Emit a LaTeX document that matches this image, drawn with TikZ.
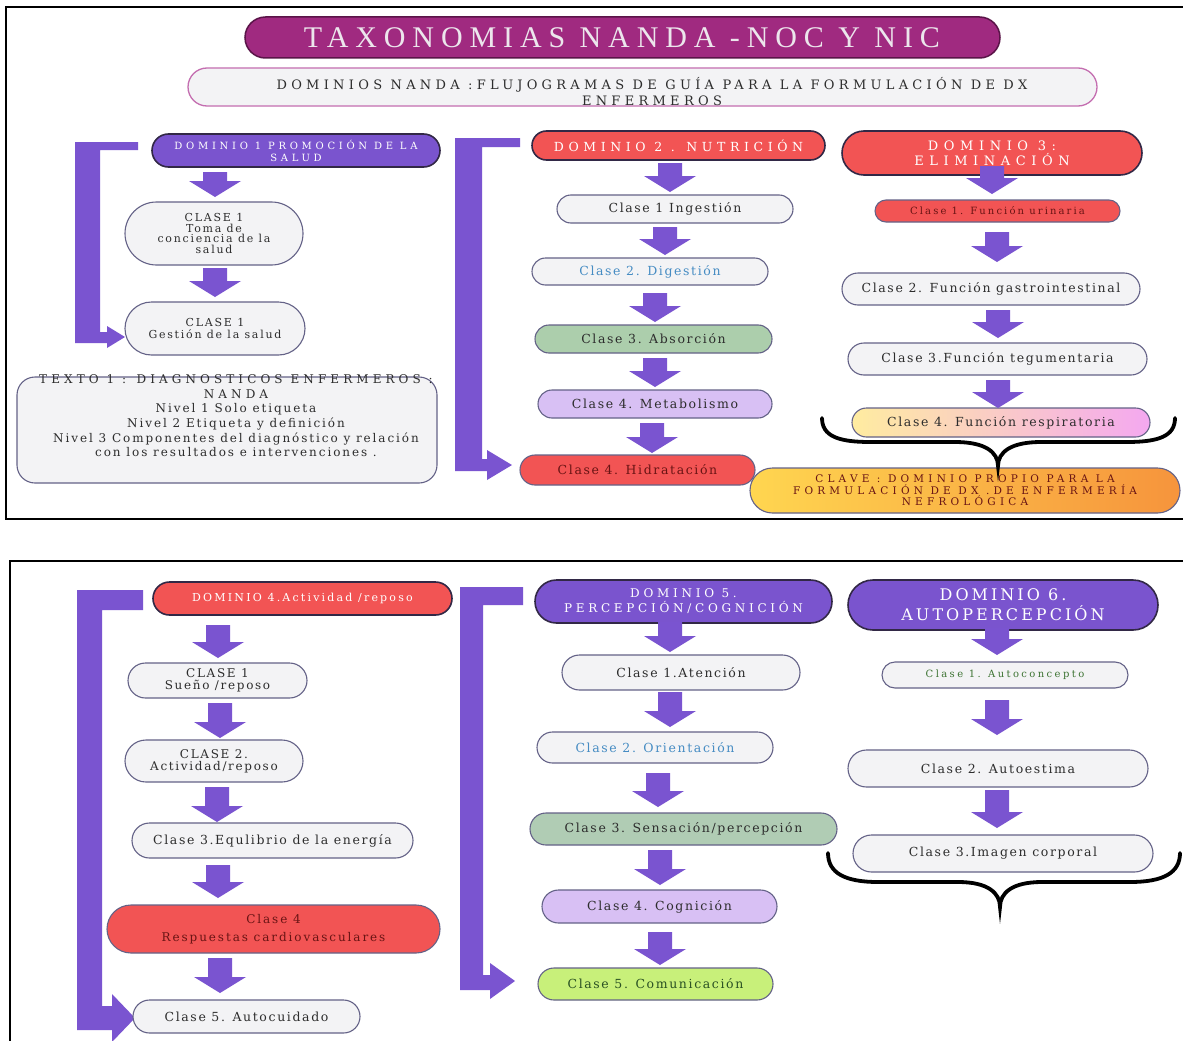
\documentclass[tikz,border=0pt]{standalone}
\usepackage{fontspec}
\setmainfont{DejaVu Serif}
\newfontfamily\titlefont{Liberation Serif}
\usetikzlibrary{shapes.misc}

\definecolor{apurple}{RGB}{122,84,208}
\definecolor{dpurple}{RGB}{122,84,206}
\definecolor{dred}{RGB}{242,84,84}
\definecolor{titlemag}{RGB}{160,42,128}
\definecolor{titleline}{RGB}{90,20,72}
\definecolor{lightbg}{RGB}{243,243,245}
\definecolor{boxline}{RGB}{100,98,135}
\definecolor{domline}{RGB}{50,40,70}
\definecolor{subline}{RGB}{196,110,176}
\definecolor{absgreen}{RGB}{172,206,172}
\definecolor{senseg}{RGB}{176,204,180}
\definecolor{lav}{RGB}{216,192,244}
\definecolor{lime}{RGB}{200,240,122}
\definecolor{txtblue}{RGB}{70,140,195}
\definecolor{txtgreen}{RGB}{60,115,50}
\definecolor{txtdark}{RGB}{45,45,45}
\definecolor{txtred}{RGB}{105,20,20}
\definecolor{cyell}{RGB}{255,214,80}
\definecolor{corange}{RGB}{246,148,60}
\definecolor{ryell}{RGB}{255,236,160}
\definecolor{rpink}{RGB}{244,168,240}
\definecolor{titletxt}{RGB}{236,230,236}

% size, leading, letter spacing
\newcommand\fsz[3]{\fontsize{#1}{#2}\selectfont\addfontfeatures{LetterSpace=#3}}

% box given by its corners: name, x1, y1, x2, y2, style, text
\newcommand\bx[7]{%
  \pgfmathsetmacro\bxw{#4-#2}\pgfmathsetmacro\bxh{#5-#3}%
  \pgfmathsetmacro\bxx{(#2+#4)/2}\pgfmathsetmacro\bxy{(#3+#5)/2}%
  \node[#6, minimum width=\bxw pt, minimum height=\bxh pt] (#1) at (\bxx,\bxy) {#7};}

% block arrow pointing down: x, top, bottom
\newcommand\darr[3]{\fill[arr] ({#1-12},#2) -- ({#1+12},#2) -- ({#1+12},{#3-16})
  -- ({#1+26},{#3-16}) -- (#1,#3) -- ({#1-26},{#3-16}) -- ({#1-12},{#3-16}) -- cycle;}

\tikzset{
  base/.style={rounded rectangle, inner sep=0pt, align=center, line width=1.1pt},
  cls/.style={base, draw=boxline, fill=lightbg, text=txtdark, font=\fsz{12.5}{14}{13}},
  dom/.style={base, draw=domline, line width=1.6pt, text=white, font=\fsz{12.5}{15}{37}},
  arr/.style={fill=apurple},
  frame/.style={draw=black, line width=1.8pt},
  brace/.style={draw=black, line width=3.8pt, line cap=round},
}

\begin{document}
\begin{tikzpicture}[x=1pt, y=-1pt]
\useasboundingbox (0,0) rectangle (1183,1041);
\fill[white] (0,0) rectangle (1183,1041);

% panels
\draw[frame] (1195,7) -- (6,7) -- (6,519) -- (1195,519);
\draw[frame] (1195,561) -- (10,561) -- (10,1055);

% heading
\bx{title}{245}{17}{1000}{58}{base, fill=titlemag, draw=titleline, line width=1.5pt}{}
\node[text=titletxt, font={\titlefont\fsz{30}{32}{23}}] (titletext) at (622,38) {TAXONOMIAS NANDA -NOC Y NIC};
\bx{sub}{188}{68}{1097}{106}{base, fill=lightbg, draw=subline, line width=1.3pt}{}
\node[align=center, text=txtdark, font=\fsz{13}{16}{33}] (subtext) at (652,92)
  {DOMINIOS NANDA :FLUJOGRAMAS DE GUÍA PARA LA FORMULACIÓN DE DX\\ENFERMEROS};

% ---------- top panel ----------
% bent arrows
\fill[arr] (75,142) -- (138,142) -- (138,150) -- (100,150) -- (100,332) -- (107,332)
  -- (107,326) -- (125,337) -- (107,348) -- (107,343) -- (75,343) -- cycle;
\fill[arr] (455,138) -- (520,138) -- (520,147) -- (482,147) -- (482,459) -- (487,459)
  -- (487,450) -- (512,465) -- (487,480) -- (487,471) -- (455,471) -- cycle;

% domain 1
\bx{d1}{152}{134}{440}{167}{dom, fill=dpurple, font=\fsz{10}{12}{37}}{DOMINIO 1 PROMOCIÓN DE LA\\SALUD}
\bx{d1a}{125}{202}{303}{265}{cls, font=\fsz{11}{10.5}{16}}{CLASE 1\\Toma de\\conciencia de la\\salud}
\bx{d1b}{125}{302}{305}{355}{cls, font=\fsz{11}{11.5}{16}}{CLASE 1\\Gestión de la salud}
\node[draw=boxline, fill=lightbg, line width=1.1pt, rounded corners=18pt, minimum width=420pt,
  minimum height=106pt] (texto) at (227,430) {};
\node[anchor=north, align=center, text=txtdark, font=\fsz{12}{14.7}{16}] (textotxt) at (236,371)
  {\addfontfeatures{LetterSpace=34}TEXTO 1 : DIAGNOSTICOS ENFERMEROS :\\
   \addfontfeatures{LetterSpace=34}NANDA\\
   Nivel 1 Solo etiqueta\\
   Nivel 2 Etiqueta y definición\\
   Nivel 3 Componentes del diagnóstico y relación\\
   con los resultados e intervenciones .};

% domain 2
\bx{d2}{532}{131}{825}{160}{dom, fill=dred}{DOMINIO 2 . NUTRICIÓN}
\bx{d2a}{557}{195}{793}{223}{cls}{Clase 1 Ingestión}
\bx{d2b}{532}{258}{768}{285}{cls, text=txtblue}{Clase 2. Digestión}
\bx{d2c}{535}{325}{772}{353}{cls, fill=absgreen}{Clase 3. Absorción}
\bx{d2d}{538}{390}{772}{418}{cls, fill=lav}{Clase 4. Metabolismo}
\bx{d2e}{520}{455}{755}{485}{cls, fill=dred, text=txtred}{Clase 4. Hidratación}

% domain 3
\bx{d3}{842}{131}{1142}{175}{dom, fill=dred, font=\fsz{13}{15}{43}}{DOMINIO 3:\\ELIMINACIÓN}
\bx{d3a}{875}{200}{1120}{222}{cls, fill=dred, text=txtred, font=\fsz{10}{12}{21}}{Clase 1. Función urinaria}
\bx{d3b}{842}{273}{1140}{305}{cls}{Clase 2. Función gastrointestinal}
\bx{d3c}{848}{343}{1147}{375}{cls}{Clase 3.Función tegumentaria}
\bx{d3d}{852}{408}{1150}{437}{cls, left color=ryell, right color=rpink}{Clase 4. Función respiratoria}
\bx{clave}{750}{468}{1180}{513}{cls, left color=cyell, right color=corange, text=txtred,
  font=\fsz{10.5}{11.5}{40}}{CLAVE : DOMINIO PROPIO PARA LA\\FORMULACIÓN DE DX .DE ENFERMERÍA\\NEFROLÓGICA}

% down arrows
\darr{215}{172}{197}
\darr{215}{268}{297}
\darr{670}{163}{192}
\darr{665}{227}{255}
\darr{655}{293}{322}
\darr{655}{358}{387}
\darr{652}{423}{453}
\darr{992}{166}{194}
\darr{997}{232}{262}
\darr{998}{310}{338}
\darr{998}{380}{408}

% brace over the key
\draw[brace] (822,418) .. controls (822,436) and (838,442) .. (870,442) -- (955,442)
  .. controls (985,442) and (998,452) .. (998,466)
  .. controls (998,452) and (1011,442) .. (1041,442) -- (1127,442)
  .. controls (1159,442) and (1175,436) .. (1175,418);

% ---------- bottom panel ----------
\fill[arr] (77,590) -- (143,590) -- (143,610) -- (102,610) -- (102,1006) -- (112,1006)
  -- (112,994) -- (135,1018) -- (112,1042) -- (112,1030) -- (77,1030) -- cycle;
\fill[arr] (460,587) -- (523,587) -- (523,605) -- (483,605) -- (483,975) -- (490,975)
  -- (490,963) -- (515,981) -- (490,999) -- (490,990) -- (460,990) -- cycle;

% domain 4
\bx{d4}{153}{582}{452}{615}{dom, fill=dred, font=\fsz{11}{13}{20}}{DOMINIO 4.Actividad /reposo}
\bx{d4a}{128}{663}{307}{698}{cls, font=\fsz{12}{12}{14}}{CLASE 1\\Sueño /reposo}
\bx{d4b}{125}{740}{303}{782}{cls, font=\fsz{12}{12}{14}}{CLASE 2.\\Actividad/reposo}
\bx{d4c}{132}{823}{413}{858}{cls}{Clase 3.Equlibrio de la energía}
\bx{d4d}{107}{905}{440}{953}{cls, fill=dred, text=txtred, font=\fsz{12}{18}{16}}{Clase 4\\Respuestas cardiovasculares}
\bx{d4e}{133}{1000}{360}{1033}{cls}{Clase 5. Autocuidado}

% domain 5
\bx{d5}{535}{580}{832}{623}{dom, fill=dpurple, font=\fsz{12}{15}{31}}{DOMINIO 5.\\PERCEPCIÓN/COGNICIÓN}
\bx{d5a}{562}{655}{800}{690}{cls}{Clase 1.Atención}
\bx{d5b}{537}{732}{773}{763}{cls, text=txtblue}{Clase 2. Orientación}
\bx{d5c}{530}{813}{837}{845}{cls, fill=senseg}{Clase 3. Sensación/percepción}
\bx{d5d}{542}{890}{777}{923}{cls, fill=lav}{Clase 4. Cognición}
\bx{d5e}{538}{968}{773}{1000}{cls, fill=lime, text=txtgreen!70!black}{Clase 5. Comunicación}

% domain 6
\bx{d6}{848}{580}{1158}{630}{dom, fill=dpurple, font=\fsz{16}{20}{19}}{DOMINIO 6.\\AUTOPERCEPCIÓN}
\bx{d6a}{882}{662}{1128}{688}{cls, text=txtgreen, font=\fsz{10}{12}{24}}{Clase 1. Autoconcepto}
\bx{d6b}{848}{750}{1148}{787}{cls}{Clase 2. Autoestima}
\bx{d6c}{853}{835}{1153}{872}{cls}{Clase 3.Imagen corporal}

% down arrows
\darr{218}{625}{658}
\darr{220}{703}{738}
\darr{217}{787}{822}
\darr{218}{865}{898}
\darr{220}{958}{993}
\darr{670}{622}{652}
\darr{670}{692}{727}
\darr{658}{773}{807}
\darr{660}{850}{885}
\darr{660}{932}{965}
\darr{997}{628}{655}
\darr{997}{700}{735}
\darr{997}{790}{828}

% brace under domain 6
\draw[brace] (828,853) .. controls (828,873) and (845,882) .. (878,882) -- (958,882)
  .. controls (988,882) and (1000,893) .. (1000,907)
  .. controls (1000,893) and (1012,882) .. (1042,882) -- (1130,882)
  .. controls (1163,882) and (1180,873) .. (1180,853);
\end{tikzpicture}
\end{document}
